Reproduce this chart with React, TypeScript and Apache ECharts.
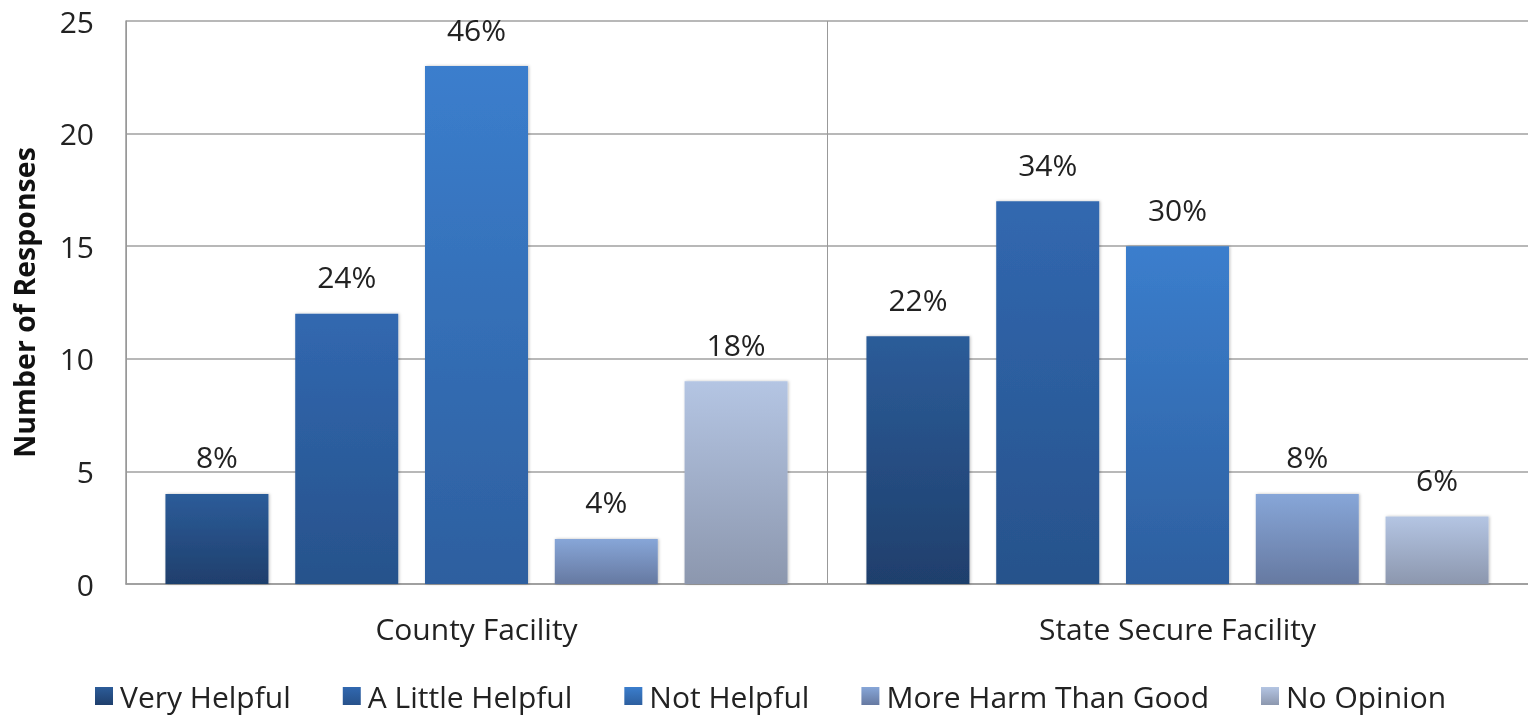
import React, { useEffect, useRef } from "react";
import * as echarts from "echarts";

const categories = ["County Facility", "State Secure Facility"];
const seriesNames = ["Very Helpful", "A Little Helpful", "Not Helpful", "More Harm Than Good", "No Opinion"];
const veryHelpful = [4, 11];
const aLittleHelpful = [12, 17];
const notHelpful = [23, 15];
const moreHarm = [2, 4];
const noOpinion = [9, 3];
const veryHelpfulPct = ["8%", "22%"];
const aLittleHelpfulPct = ["24%", "34%"];
const notHelpfulPct = ["46%", "30%"];
const moreHarmPct = ["4%", "8%"];
const noOpinionPct = ["18%", "6%"];
const yTicks = [0, 5, 10, 15, 20, 25];

const values = [veryHelpful, aLittleHelpful, notHelpful, moreHarm, noOpinion];
const pcts = [veryHelpfulPct, aLittleHelpfulPct, notHelpfulPct, moreHarmPct, noOpinionPct];
const gradients: [string, string][] = [
  ["#2c5c99", "#1f3f6c"],
  ["#3168b0", "#27528b"],
  ["#3b7ecd", "#2d5f9f"],
  ["#87a6d8", "#6679a1"],
  ["#b4c5e3", "#8c97ae"],
];

const FONT = "'Open Sans', 'Noto Sans', sans-serif";

export default function App() {
  const ref = useRef<HTMLDivElement>(null);
  useEffect(() => {
    document.body.style.margin = "0";
    const chart = echarts.init(ref.current!, null, { renderer: "svg" });
    chart.setOption({
      animation: false,
      textStyle: { fontFamily: FONT },
      grid: { left: 126, top: 21, right: 0, bottom: 134, containLabel: false },
      legend: {
        bottom: 1,
        left: 90,
        icon: "rect",
        itemWidth: 18,
        itemHeight: 18,
        itemGap: 52,
        textStyle: { fontSize: 30, lineHeight: 32, color: "#222", fontFamily: FONT, padding: [0, 0, 0, 2] },
        data: seriesNames,
      },
      xAxis: {
        type: "category",
        data: categories,
        axisLine: { show: true, lineStyle: { color: "#999", width: 1.5 } },
        axisTick: { show: false },
        splitLine: { show: true, lineStyle: { color: "#999", width: 1 } },
        axisLabel: { fontSize: 30, color: "#222", margin: 29, fontFamily: FONT },
      },
      yAxis: {
        type: "value",
        min: yTicks[0],
        max: yTicks[yTicks.length - 1],
        interval: 5,
        name: "Number of Responses",
        nameLocation: "middle",
        nameGap: 88,
        nameTextStyle: { fontSize: 28.5, fontWeight: "bold", color: "#111", fontFamily: FONT },
        axisLine: { show: true, lineStyle: { color: "#999", width: 1.5 } },
        axisTick: { show: false },
        splitLine: { show: true, lineStyle: { color: "#a0a0a0", width: 1.5 } },
        axisLabel: { fontSize: 30, color: "#222", margin: 32, fontFamily: FONT },
      },
      series: seriesNames.map((name, i) => ({
        name,
        type: "bar",
        data: values[i],
        barWidth: 103,
        barGap: "26%",
        itemStyle: {
          color: new echarts.graphic.LinearGradient(0, 0, 0, 1, [
            { offset: 0, color: gradients[i][0] },
            { offset: 1, color: gradients[i][1] },
          ]),
          shadowBlur: 3,
          shadowColor: "rgba(0,0,0,0.25)",
          shadowOffsetX: 1,
          shadowOffsetY: 0,
        },
        label: {
          show: true,
          position: "top",
          distance: 22,
          fontSize: 30,
          color: "#222",
          fontFamily: FONT,
          formatter: (p: any) => pcts[i][p.dataIndex],
        },
      })),
    });
    return () => chart.dispose();
  }, []);
  return <div ref={ref} style={{ position: "fixed", left: 0, top: 0, width: 1528, height: 718 }} />;
}
